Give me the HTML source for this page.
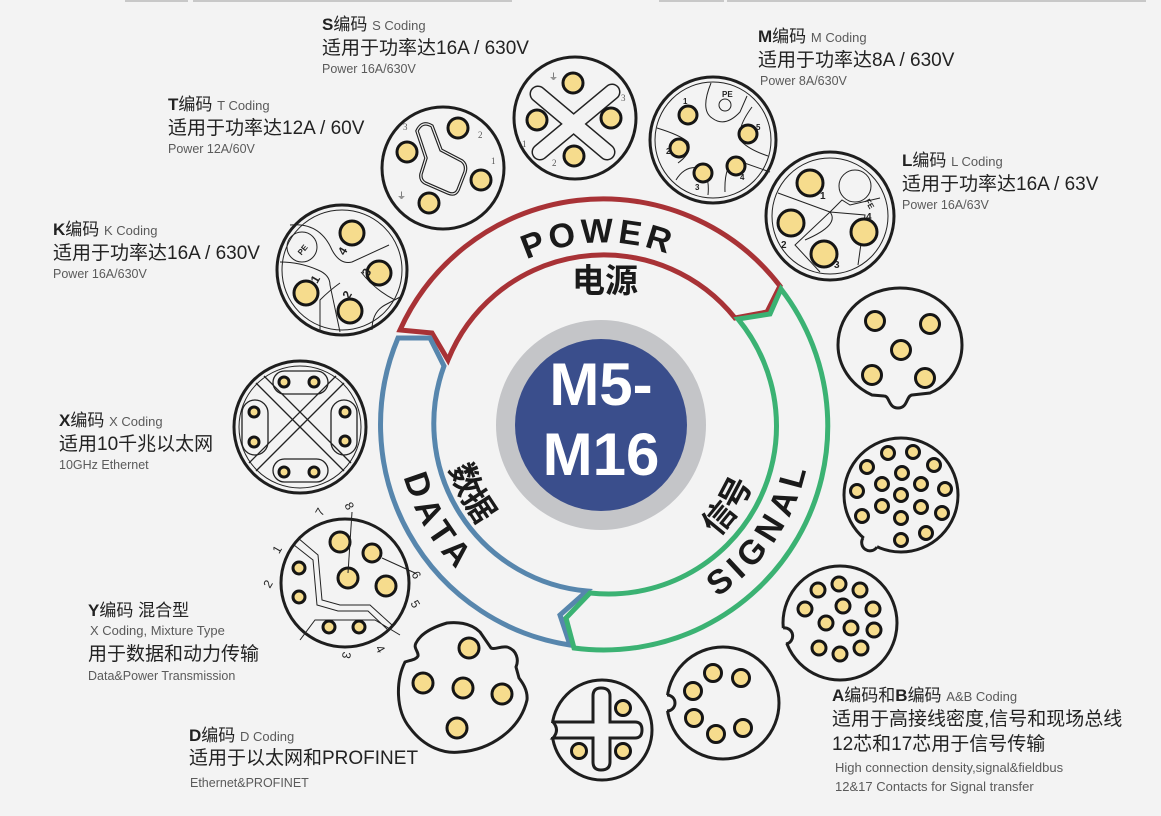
<!DOCTYPE html>
<html><head><meta charset="utf-8"><style>
html,body{margin:0;padding:0;background:#f3f3f3;}
svg{display:block}
text{font-family:"Liberation Sans","Noto Sans CJK SC",sans-serif;}
.p{fill:#f6dc8d;stroke:#151515;stroke-width:3}
.c{fill:#f3f3f3;stroke:#1e1e1e;stroke-width:3}
.t{fill:none;stroke:#222;stroke-width:1}
.n{font-size:9px;fill:#555;font-family:"Liberation Serif",serif}
.m{fill:#222}
.g{fill:#5a5a5a}
</style></head><body>
<svg width="1161" height="816" viewBox="0 0 1161 816" xmlns="http://www.w3.org/2000/svg">
<rect width="1161" height="816" fill="#f3f3f3"/>
<line x1="125" y1="1" x2="188" y2="1" stroke="#c8c8c8" stroke-width="2"/>
<line x1="193" y1="1" x2="512" y2="1" stroke="#c8c8c8" stroke-width="2"/>
<line x1="659" y1="1" x2="724" y2="1" stroke="#c8c8c8" stroke-width="2"/>
<line x1="727" y1="1" x2="1146" y2="1" stroke="#c8c8c8" stroke-width="2"/>

<!-- ring segments -->
<path d="M448,360 L432,333 L400,330 A223,223 0 0 1 780,286 L767,312 L735,318 A168,168 0 0 0 448,360 Z" fill="none" stroke="#a83236" stroke-width="5" stroke-linejoin="miter"/>
<path d="M444,366 L430,338 L398,338 A223,223 0 0 0 570,645 L560,615 L587,591 A168,168 0 0 1 444,366 Z" fill="none" stroke="#5786ad" stroke-width="5"/>
<path d="M590,593 L566,618 L574,648 A224,224 0 0 0 781,289 L770,314 L738,319 A168,168 0 0 1 590,593 Z" fill="none" stroke="#3bb273" stroke-width="5"/>

<!-- center -->
<circle cx="601" cy="425" r="105" fill="#c4c5c8"/>
<circle cx="601" cy="425" r="86" fill="#3a4e8c"/>
<text x="601" y="405" text-anchor="middle" font-size="60" font-weight="bold" fill="#fff">M5-</text>
<text x="601" y="475" text-anchor="middle" font-size="60" font-weight="bold" fill="#fff">M16</text>

<defs>
<path id="pw" d="M513,267 A181,181 0 0 1 695,267"/>
<path id="da" d="M397,428 A207,207 0 0 0 500,603"/>
<path id="sg" d="M694,610 A207,207 0 0 0 811,438"/>
<path id="sj" d="M444,438 A160,160 0 0 0 501,547"/>
<path id="xh" d="M694,556 A160,160 0 0 0 761,455"/>
</defs>
<text font-size="34" font-weight="bold" fill="#1a1a1a" letter-spacing="4"><textPath href="#pw" startOffset="47%" text-anchor="middle">POWER</textPath></text>
<text x="605" y="292" text-anchor="middle" font-size="33" font-weight="bold" fill="#1a1a1a">电源</text>
<text font-size="34" font-weight="bold" fill="#1a1a1a" letter-spacing="6"><textPath href="#da" startOffset="50%" text-anchor="middle">DATA</textPath></text>
<text font-size="34" font-weight="bold" fill="#1a1a1a" letter-spacing="6"><textPath href="#sg" startOffset="50%" text-anchor="middle">SIGNAL</textPath></text>
<text font-size="32" font-weight="bold" fill="#1a1a1a"><textPath href="#sj" startOffset="50%" text-anchor="middle">数据</textPath></text>
<text font-size="32" font-weight="bold" fill="#1a1a1a"><textPath href="#xh" startOffset="50%" text-anchor="middle">信号</textPath></text>

<!-- S connector -->
<circle class="c" cx="575" cy="118" r="61"/>
<g stroke-linecap="round">
<line x1="538" y1="94" x2="607" y2="152" stroke="#222" stroke-width="17"/>
<line x1="612" y1="92" x2="540" y2="152" stroke="#222" stroke-width="17"/>
<line x1="538" y1="94" x2="607" y2="152" stroke="#f3f3f3" stroke-width="14"/>
<line x1="612" y1="92" x2="540" y2="152" stroke="#f3f3f3" stroke-width="14"/>
</g>
<circle class="p" cx="573" cy="83" r="10"/><circle class="p" cx="537" cy="120" r="10"/><circle class="p" cx="611" cy="118" r="10"/><circle class="p" cx="574" cy="156" r="10"/>
<text class="n" x="522" y="147">1</text><text class="n" x="552" y="166">2</text><text class="n" x="621" y="101">3</text><text x="549" y="80" font-size="9" fill="#333">⏚</text>

<!-- T connector -->
<circle class="c" cx="443" cy="168" r="61"/>
<path d="M417,131 Q422,120 432,126 L441,150 L462,161 Q467,165 465,172 L458,190 Q455,196 448,193 L425,183 Q420,180 421,174 L426,158 Z" fill="none" stroke="#222" stroke-width="3.5"/>
<path d="M417,131 Q422,120 432,126 L441,150 L462,161 Q467,165 465,172 L458,190 Q455,196 448,193 L425,183 Q420,180 421,174 L426,158 Z" fill="none" stroke="#f3f3f3" stroke-width="1.2"/>
<circle class="p" cx="407" cy="152" r="10"/><circle class="p" cx="458" cy="128" r="10"/><circle class="p" cx="481" cy="180" r="10"/><circle class="p" cx="429" cy="203" r="10"/>
<text class="n" x="403" y="130">3</text><text class="n" x="478" y="138">2</text><text class="n" x="491" y="164">1</text><text x="397" y="199" font-size="9" fill="#333">⏚</text>

<!-- K connector -->
<circle class="c" cx="342" cy="270" r="65"/>
<circle class="t" cx="342" cy="270" r="60"/>
<circle class="t" cx="302" cy="247" r="15"/>
<text x="295" y="252" font-size="8" font-weight="bold" fill="#222" transform="rotate(-50 302 247)">PE</text>
<path class="t" d="M290,225 Q320,222 332,250 Q340,265 352,262 L389,245 M361,272 Q375,290 395,300 M340,283 Q330,290 320,300 L320,332 M280,262 Q300,262 318,270 Q330,275 330,285 L340,332 M372,330 Q372,312 385,305 L402,296"/>
<circle class="p" cx="352" cy="233" r="12"/><circle class="p" cx="379" cy="273" r="12"/><circle class="p" cx="306" cy="293" r="12"/><circle class="p" cx="350" cy="311" r="12"/>
<text x="341" y="258" font-size="12" font-weight="bold" fill="#222" transform="rotate(-60 341 254)">4</text>
<text x="363" y="278" font-size="12" font-weight="bold" fill="#222" transform="rotate(-60 365 273)">3</text>
<text x="344" y="299" font-size="12" font-weight="bold" fill="#222" transform="rotate(-60 347 295)">2</text>
<text x="313" y="283" font-size="12" font-weight="bold" fill="#222" transform="rotate(-60 316 280)">1</text>

<!-- M connector -->
<circle class="c" cx="713" cy="140" r="63"/>
<circle class="t" cx="713" cy="140" r="58"/>
<circle class="t" cx="725" cy="105" r="6"/>
<path class="t" d="M711,83 Q700,110 712,118 Q725,128 740,112 L747,96 M657,128 Q680,135 688,142 Q693,152 678,163 M676,180 Q685,165 700,168 Q710,175 708,195 M752,107 Q735,130 742,142 Q750,150 768,156 M725,192 Q724,165 736,160 L770,172"/>
<text x="722" y="97" font-size="8" font-weight="bold" fill="#222">PE</text>
<circle class="p" cx="688" cy="115" r="9"/><circle class="p" cx="748" cy="134" r="9"/><circle class="p" cx="679" cy="148" r="9"/><circle class="p" cx="703" cy="173" r="9"/><circle class="p" cx="736" cy="166" r="9"/>
<text x="683" y="104" font-size="8" font-weight="bold" fill="#222">1</text><text x="756" y="130" font-size="8" font-weight="bold" fill="#222">5</text><text x="666" y="154" font-size="8" font-weight="bold" fill="#222">2</text><text x="695" y="190" font-size="8" font-weight="bold" fill="#222">3</text><text x="740" y="180" font-size="8" font-weight="bold" fill="#222">4</text>

<!-- L connector -->
<circle class="c" cx="830" cy="216" r="64"/>
<circle class="t" cx="830" cy="216" r="58"/>
<circle class="t" cx="855" cy="186" r="16"/>
<path class="t" d="M778,193 L830,212 L842,200 L850,205 L880,198 M830,212 L795,245 L820,272 M830,212 L865,215 L858,265 M830,212 Q840,225 805,240"/>
<text x="868" y="205" font-size="8" font-weight="bold" fill="#222" transform="rotate(60 870 200)">FE</text>
<circle class="p" cx="810" cy="183" r="13"/><circle class="p" cx="791" cy="223" r="13"/><circle class="p" cx="824" cy="254" r="13"/><circle class="p" cx="864" cy="232" r="13"/>
<text x="820" y="199" font-size="10" font-weight="bold" fill="#222">1</text><text x="781" y="248" font-size="10" font-weight="bold" fill="#222">2</text><text x="834" y="268" font-size="10" font-weight="bold" fill="#222">3</text><text x="866" y="220" font-size="10" font-weight="bold" fill="#222">4</text>

<!-- X connector -->
<circle class="c" cx="300" cy="427" r="66"/>
<circle class="t" cx="300" cy="427" r="61"/>
<g stroke="#222" stroke-width="1.3" fill="none">
<line x1="256" y1="383" x2="344" y2="471"/><line x1="264" y1="376" x2="351" y2="463"/>
<line x1="344" y1="383" x2="256" y2="471"/><line x1="336" y1="376" x2="249" y2="463"/>
<rect x="273" y="371" width="55" height="23" rx="11.5"/>
<rect x="273" y="459" width="55" height="23" rx="11.5"/>
<rect x="242" y="400" width="26" height="55" rx="13"/>
<rect x="331" y="400" width="26" height="55" rx="13"/>
</g>
<circle class="p" cx="284" cy="382" r="5" stroke-width="2"/><circle class="p" cx="314" cy="382" r="5" stroke-width="2"/>
<circle class="p" cx="284" cy="472" r="5" stroke-width="2"/><circle class="p" cx="314" cy="472" r="5" stroke-width="2"/>
<circle class="p" cx="254" cy="412" r="5" stroke-width="2"/><circle class="p" cx="254" cy="442" r="5" stroke-width="2"/>
<circle class="p" cx="345" cy="412" r="5" stroke-width="2"/><circle class="p" cx="345" cy="441" r="5" stroke-width="2"/>

<!-- Y connector -->
<circle class="c" cx="345" cy="583" r="64"/>
<path class="t" d="M298,538 L318,555 L322,600 L340,605 L370,605 L392,625 M294,545 L313,560 L317,605 L338,611 L368,611 L388,630 M300,640 L315,620 L375,620 L400,635"/>
<circle class="p" cx="340" cy="542" r="10"/><circle class="p" cx="372" cy="553" r="9"/><circle class="p" cx="348" cy="578" r="10"/><circle class="p" cx="386" cy="586" r="10"/>
<circle class="p" cx="299" cy="568" r="6"/><circle class="p" cx="299" cy="597" r="6"/><circle class="p" cx="329" cy="627" r="6"/><circle class="p" cx="359" cy="627" r="6"/>
<line x1="352" y1="512" x2="348" y2="573" stroke="#222" stroke-width="1"/>
<line x1="415" y1="573" x2="382" y2="558" stroke="#222" stroke-width="1"/>
<g font-size="12" fill="#222">
<text x="315" y="515" transform="rotate(-60 320 510)">7</text><text x="346" y="512" transform="rotate(60 351 507)">8</text>
<text x="273" y="552" transform="rotate(-60 278 548)">1</text><text x="263" y="587" transform="rotate(-60 268 582)">2</text>
<text x="413" y="581" transform="rotate(60 418 576)">6</text><text x="412" y="610" transform="rotate(60 417 605)">5</text>
<text x="377" y="655" transform="rotate(60 382 650)">4</text><text x="342" y="662" transform="rotate(100 347 657)">3</text>
</g>

<!-- D connector -->
<path class="c" d="M405,662 C396,680 395,710 410,728 C425,748 445,754 460,752 C490,750 520,730 527,700 C528,690 522,682 519,678 L516,667 C519,660 517,650 507,647 C500,646 495,650 491,648 L480,632 C470,622 455,622 447,623 C430,628 420,635 416,643 C413,648 419,652 418,656 C416,660 410,660 405,662 Z"/>
<circle class="p" cx="469" cy="648" r="10"/><circle class="p" cx="423" cy="683" r="10"/><circle class="p" cx="463" cy="688" r="10"/><circle class="p" cx="502" cy="694" r="10"/><circle class="p" cx="457" cy="728" r="10"/>

<!-- Cross connector -->
<circle class="c" cx="602" cy="730" r="50"/>
<rect x="548" y="723" width="10" height="14" fill="#f3f3f3"/>
<path d="M553,722 L593,722 L593,696 Q593,688 601,688 Q610,688 610,696 L610,722 L635,722 Q642,722 642,730 Q642,738 635,738 L610,738 L610,762 Q610,770 601,770 Q593,770 593,762 L593,738 L553,738 Q560,730 553,722" fill="none" stroke="#1e1e1e" stroke-width="3"/>
<circle class="p" cx="623" cy="708" r="7.5"/><circle class="p" cx="579" cy="751" r="7.5"/><circle class="p" cx="623" cy="751" r="7.5"/>

<!-- 8-pin -->
<circle class="c" cx="723" cy="703" r="56"/>
<circle cx="667" cy="703" r="8" fill="#f3f3f3"/>
<path d="M667,695 A8,8 0 0 1 667,711" fill="none" stroke="#1e1e1e" stroke-width="3"/>
<circle class="p" cx="713" cy="673" r="8.5"/><circle class="p" cx="741" cy="678" r="8.5"/><circle class="p" cx="693" cy="691" r="8.5"/><circle class="p" cx="694" cy="718" r="8.5"/><circle class="p" cx="716" cy="734" r="8.5"/><circle class="p" cx="743" cy="728" r="8.5"/>

<!-- 12-pin -->
<circle class="c" cx="840" cy="623" r="57"/>
<circle cx="784" cy="636" r="8" fill="#f3f3f3"/>
<path d="M783,628 A8,8 0 0 1 786,644" fill="none" stroke="#1e1e1e" stroke-width="3"/>
<g>
<circle class="p" cx="839" cy="584" r="7"/><circle class="p" cx="818" cy="590" r="7"/><circle class="p" cx="860" cy="590" r="7"/>
<circle class="p" cx="805" cy="609" r="7"/><circle class="p" cx="843" cy="606" r="7"/><circle class="p" cx="873" cy="609" r="7"/>
<circle class="p" cx="826" cy="623" r="7"/><circle class="p" cx="851" cy="628" r="7"/><circle class="p" cx="874" cy="630" r="7"/>
<circle class="p" cx="819" cy="648" r="7"/><circle class="p" cx="840" cy="654" r="7"/><circle class="p" cx="861" cy="648" r="7"/>
</g>

<!-- 17-pin -->
<circle class="c" cx="901" cy="495" r="57"/>
<circle cx="870" cy="543" r="8" fill="#f3f3f3"/>
<path d="M863,538 A8,8 0 0 0 877,547" fill="none" stroke="#1e1e1e" stroke-width="3"/>
<g>
<circle class="p" cx="888" cy="453" r="6.5"/><circle class="p" cx="913" cy="452" r="6.5"/><circle class="p" cx="867" cy="467" r="6.5"/><circle class="p" cx="934" cy="465" r="6.5"/>
<circle class="p" cx="902" cy="473" r="6.5"/><circle class="p" cx="882" cy="484" r="6.5"/><circle class="p" cx="921" cy="484" r="6.5"/><circle class="p" cx="857" cy="491" r="6.5"/>
<circle class="p" cx="945" cy="489" r="6.5"/><circle class="p" cx="901" cy="495" r="6.5"/><circle class="p" cx="882" cy="506" r="6.5"/><circle class="p" cx="921" cy="507" r="6.5"/>
<circle class="p" cx="862" cy="516" r="6.5"/><circle class="p" cx="942" cy="513" r="6.5"/><circle class="p" cx="901" cy="518" r="6.5"/><circle class="p" cx="901" cy="540" r="6.5"/><circle class="p" cx="926" cy="533" r="6.5"/>
</g>

<!-- A 5-pin -->
<path class="c" d="M872,395 C850,385 838,365 838,345 C838,312 866,288 900,288 C934,288 962,312 962,345 C962,365 950,385 930,393 L912,395 C906,396 908,408 898,408 C888,408 890,396 884,396 Z"/>
<circle class="p" cx="875" cy="321" r="9.5"/><circle class="p" cx="930" cy="324" r="9.5"/><circle class="p" cx="901" cy="350" r="9.5"/><circle class="p" cx="872" cy="375" r="9.5"/><circle class="p" cx="925" cy="378" r="9.5"/>

<!-- labels -->
<g>
<text x="322" y="30" font-size="17" class="m"><tspan font-weight="bold">S</tspan>编码 <tspan font-size="13" class="g">S Coding</tspan></text>
<text x="322" y="54" font-size="19" class="m">适用于功率达16A / 630V</text>
<text x="322" y="73" font-size="12.5" class="g">Power 16A/630V</text>

<text x="168" y="110" font-size="17" class="m"><tspan font-weight="bold">T</tspan>编码 <tspan font-size="13" class="g">T Coding</tspan></text>
<text x="168" y="134" font-size="19" class="m">适用于功率达12A / 60V</text>
<text x="168" y="153" font-size="12.5" class="g">Power 12A/60V</text>

<text x="53" y="235" font-size="17" class="m"><tspan font-weight="bold">K</tspan>编码 <tspan font-size="13" class="g">K Coding</tspan></text>
<text x="53" y="259" font-size="19" class="m">适用于功率达16A / 630V</text>
<text x="53" y="278" font-size="12.5" class="g">Power 16A/630V</text>

<text x="758" y="42" font-size="17" class="m"><tspan font-weight="bold">M</tspan>编码 <tspan font-size="13" class="g">M Coding</tspan></text>
<text x="758" y="66" font-size="19" class="m">适用于功率达8A / 630V</text>
<text x="760" y="85" font-size="12.5" class="g">Power 8A/630V</text>

<text x="902" y="166" font-size="17" class="m"><tspan font-weight="bold">L</tspan>编码 <tspan font-size="13" class="g">L Coding</tspan></text>
<text x="902" y="190" font-size="19" class="m">适用于功率达16A / 63V</text>
<text x="902" y="209" font-size="12.5" class="g">Power 16A/63V</text>

<text x="59" y="426" font-size="17" class="m"><tspan font-weight="bold">X</tspan>编码 <tspan font-size="13" class="g">X Coding</tspan></text>
<text x="59" y="450" font-size="19" class="m">适用10千兆以太网</text>
<text x="59" y="469" font-size="12.5" class="g">10GHz Ethernet</text>

<text x="88" y="616" font-size="17" class="m"><tspan font-weight="bold">Y</tspan>编码  混合型</text>
<text x="90" y="635" font-size="13" class="g">X Coding, Mixture Type</text>
<text x="88" y="660" font-size="19" class="m">用于数据和动力传输</text>
<text x="88" y="680" font-size="12.5" class="g">Data&amp;Power Transmission</text>

<text x="189" y="741" font-size="17" class="m"><tspan font-weight="bold">D</tspan>编码 <tspan font-size="13" class="g">D Coding</tspan></text>
<text x="189" y="764" font-size="19" class="m">适用于以太网和PROFINET</text>
<text x="190" y="787" font-size="12.5" class="g">Ethernet&amp;PROFINET</text>

<text x="832" y="701" font-size="17" class="m"><tspan font-weight="bold">A</tspan>编码和<tspan font-weight="bold">B</tspan>编码 <tspan font-size="13" class="g">A&amp;B Coding</tspan></text>
<text x="832" y="725" font-size="19" class="m">适用于高接线密度,信号和现场总线</text>
<text x="832" y="750" font-size="19" class="m">12芯和17芯用于信号传输</text>
<text x="835" y="772" font-size="13" class="g">High connection density,signal&amp;fieldbus</text>
<text x="835" y="791" font-size="13" class="g">12&amp;17 Contacts for Signal transfer</text>
</g>
</svg>
</body></html>
